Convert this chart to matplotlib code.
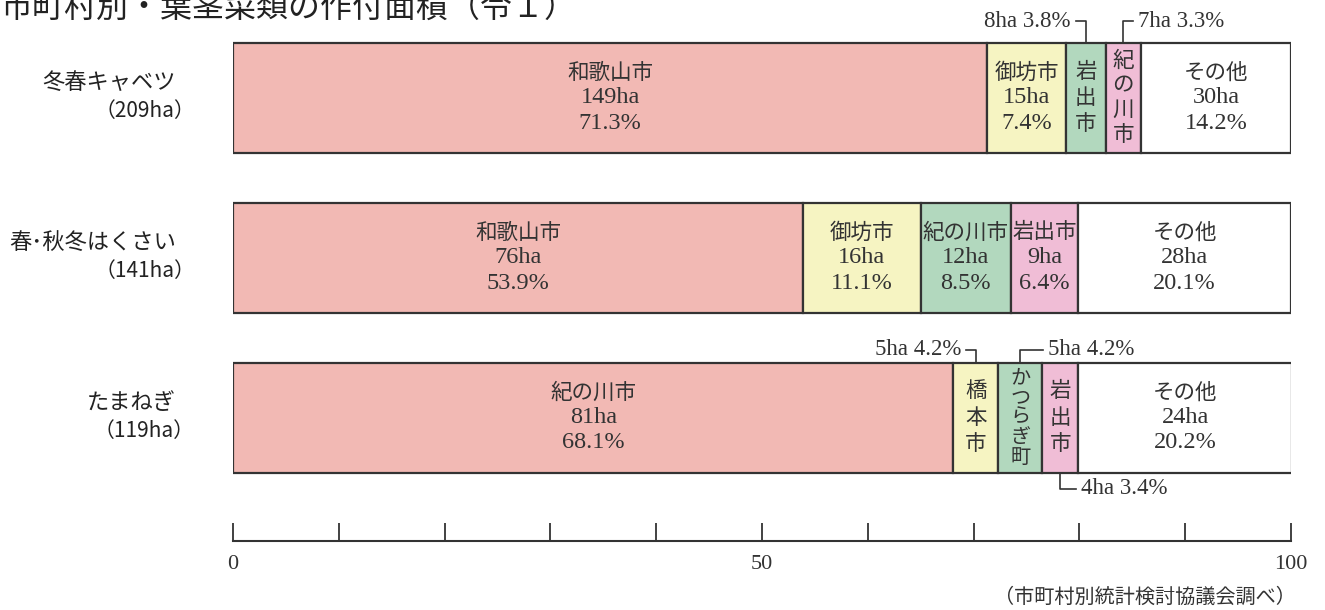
import matplotlib.pyplot as plt

plt.rcParams['font.family'] = ['Noto Sans CJK JP', 'DejaVu Sans']

crop_labels = ['冬春キャベツ', '春･秋冬はくさい', 'たまねぎ']
crop_totals = ['（209ha）', '（141ha）', '（119ha）']

cabbage_areas = ['和歌山市', '御坊市', '岩出市', '紀の川市', 'その他']
cabbage_ha = [149, 15, 8, 7, 30]
cabbage_pct = [71.3, 7.4, 3.8, 3.3, 14.2]

hakusai_areas = ['和歌山市', '御坊市', '紀の川市', '岩出市', 'その他']
hakusai_ha = [76, 16, 12, 9, 28]
hakusai_pct = [53.9, 11.1, 8.5, 6.4, 20.1]

onion_areas = ['紀の川市', '橋本市', 'かつらぎ町', '岩出市', 'その他']
onion_ha = [81, 5, 5, 4, 24]
onion_pct = [68.1, 4.2, 4.2, 3.4, 20.2]

colors = ['#f2b9b4', '#f6f4c2', '#b2d8be', '#f0bdd6', '#ffffff']
edge = '#333333'
txt = '#333333'
serif = ['Liberation Serif', 'Noto Sans CJK JP']

rows = [
    (cabbage_areas, cabbage_ha, cabbage_pct),
    (hakusai_areas, hakusai_ha, hakusai_pct),
    (onion_areas, onion_ha, onion_pct),
]

# narrow segments: name written vertically, value put outside the bar
# (row, segment) -> (side, direction, rise, arm)
callouts = {
    (0, 2): ('top', -1, 0.135, 0.95),
    (0, 3): ('top', 1, 0.135, 0.95),
    (2, 1): ('top', -1, 0.08, 0.95),
    (2, 2): ('top', 1, 0.08, 2.2),
    (2, 3): ('bottom', 1, 0.10, 1.5),
}

fig = plt.figure(figsize=(13.25, 6.1), dpi=100)
ax = fig.add_axes([233 / 1325, 1 - 541 / 610, (1291 - 233) / 1325, 541 / 610])

bar_h = 0.6875
line = 0.158
for i, (names, ha, pct) in enumerate(rows):
    left = 0
    for j, (name, h, p) in enumerate(zip(names, ha, pct)):
        ax.barh(i, p, left=left, height=bar_h, color=colors[j],
                edgecolor=edge, linewidth=1.6)
        cx = left + p / 2
        if (i, j) in callouts:
            n = len(name)
            step = min(0.165, 0.62 / n)
            fs = 15.5 if n < 5 else 14.5
            for k, ch in enumerate(name):
                ax.text(cx, i + (k - (n - 1) / 2) * step, ch, ha='center',
                        va='center', fontsize=fs, color=txt)
            side, d, rise, arm = callouts[(i, j)]
            if side == 'top':
                y0 = i - bar_h / 2
                y1 = y0 - rise
            else:
                y0 = i + bar_h / 2
                y1 = y0 + rise
            ax.plot([cx, cx, cx + d * arm], [y0, y1, y1], color=edge, lw=1.2,
                    clip_on=False)
            ax.text(cx + d * (arm + 0.45), y1, f'{h}ha {p}%',
                    ha='left' if d > 0 else 'right', va='center',
                    fontsize=16.5, color=txt, family=serif)
        else:
            ax.text(cx, i - line, name, ha='center', va='center',
                    fontsize=15.5, color=txt)
            ax.text(cx, i, f'{h}ha', ha='center', va='center',
                    fontsize=17.5, color=txt, family=serif)
            ax.text(cx, i + line, f'{p}%', ha='center', va='center',
                    fontsize=17.5, color=txt, family=serif)
        left += p

for i, (lab, tot) in enumerate(zip(crop_labels, crop_totals)):
    ax.text(-5.4, i - 0.095, lab, ha='right', va='center', fontsize=16,
            color='#222222')
    ax.text(-3.6, i + 0.085, tot, ha='right', va='center', fontsize=15,
            color='#222222')

ax.set_xlim(0, 100)
ax.set_ylim(2.772, -0.6125)
for s in ['top', 'left', 'right']:
    ax.spines[s].set_visible(False)
ax.spines['bottom'].set_linewidth(1.5)
ax.spines['bottom'].set_color(edge)
ax.set_yticks([])
ax.set_xticks([0, 50, 100])
ax.set_xticks(range(0, 101, 10), minor=True)
ax.tick_params(axis='x', which='both', direction='in', length=13, width=1.3,
               color=edge, pad=10)
ax.tick_params(axis='x', labelsize=16, labelcolor=txt)
for t in ax.get_xticklabels():
    t.set_family(serif)

fig.text(0.0, 1 - 8 / 610, '市町村別・葉茎菜類の作付面積（令１）', ha='left',
         va='center', fontsize=23, color='#222222')
fig.text(1296 / 1325, 1 - 597 / 610, '（市町村別統計検討協議会調べ）', ha='right',
         va='center', fontsize=14.5, color=txt)

fig.savefig('out.png', dpi=100)
